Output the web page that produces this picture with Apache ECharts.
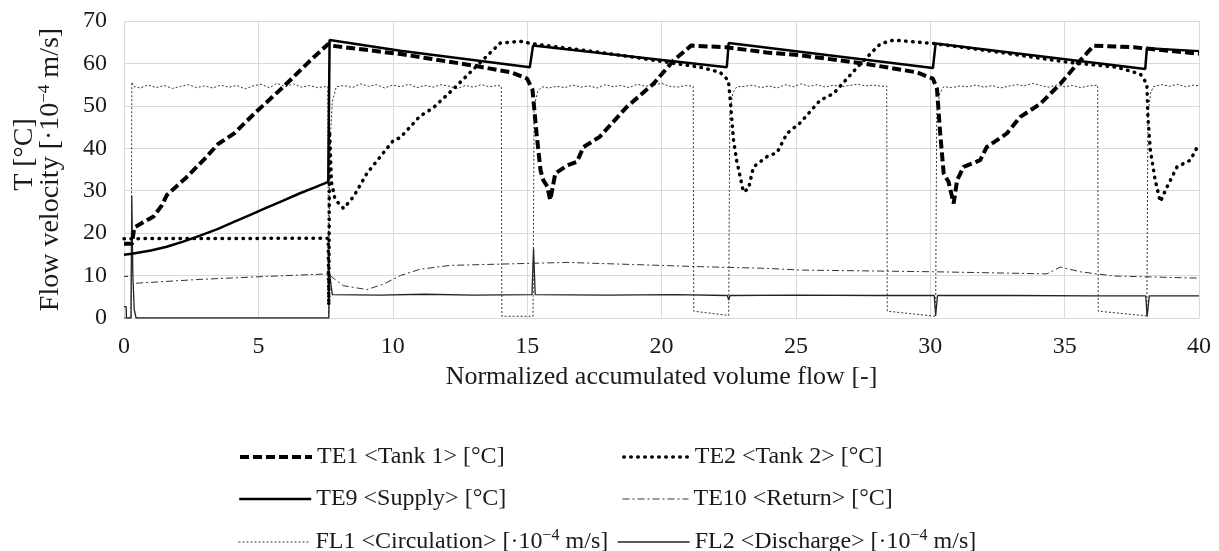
<!DOCTYPE html>
<html><head><meta charset="utf-8">
<script src="https://cdn.jsdelivr.net/npm/echarts@6/dist/echarts.min.js"></script>
<style>html,body{margin:0;padding:0;background:#fff}#c{width:1219px;height:551px}</style>
</head><body><div id="c"></div>
<script>
// ---- data ----
const seriesNames = ['TE1 <Tank 1> [°C]', 'TE2 <Tank 2> [°C]', 'TE9 <Supply> [°C]', 'TE10 <Return> [°C]',
  'FL1 <Circulation> [·10⁻⁴ m/s]', 'FL2 <Discharge> [·10⁻⁴ m/s]'];

const te1 = [[0,17.5],[0.3,17.5],[0.38,21.3],[0.7,22.5],[1.1,23.9],[1.4,26.5],[1.6,29.0],[2.3,33.0],[3.0,37.5],
  [3.5,41.0],[4.1,43.5],[4.9,48.5],[5.9,54.3],[6.9,60.5],[7.6,64.6],[7.7,64.2],[9,63.2],[10.3,62.2],[12,60.5],
  [13,59.5],[14.4,57.9],[15.0,56.4],[15.2,53.8],[15.35,43.5],[15.5,34.8],[15.6,32.5],[15.75,31.0],[15.86,27.8],
  [16.05,34.1],[16.5,36.0],[16.85,36.8],[17.1,40.3],[17.7,42.7],[18.7,49.7],[19.7,55.2],[20.45,60.7],[21.1,64.2],
  [22.4,63.8],[23.9,62.6],[25.2,61.9],[27.6,59.9],[29.5,57.9],[30.1,56.4],[30.25,54.0],[30.37,43.5],[30.5,34.1],
  [30.68,32.1],[30.87,27.0],[31.0,32.5],[31.24,35.6],[31.86,37.2],[32.1,40.3],[32.85,43.5],[33.35,47.4],
  [34.1,50.5],[34.84,55.2],[35.58,60.7],[36.08,64.2],[37.57,63.8],[38.06,63.5],[40,62.3]];

const te2 = [[0,18.7],[7.6,18.8],[7.62,3],[7.65,44],[7.72,32],[7.85,28],[8.17,25.8],[8.54,28.6],[9.04,34.1],
  [10.03,41.9],[10.28,42.5],[11.0,47.5],[11.5,49.5],[12.26,54],[13.38,61],[14.0,64.8],[14.74,65.2],[15.24,64.6],
  [17.72,62.6],[20.2,60.3],[21.44,59.1],[22.18,57.9],[22.49,56.0],[22.56,51.3],[22.68,41.9],[22.8,37],
  [23.05,29.7],[23.24,30.5],[23.42,35.6],[23.92,38.0],[24.3,39.0],[24.67,43.5],[25.16,46.0],[25.9,51.3],
  [26.4,52.9],[27.4,59.9],[28.14,64.6],[28.63,65.5],[30.12,64.7],[32.6,62.6],[35.09,60.3],[36.95,59.1],
  [37.82,57.5],[38.06,55.2],[38.1,47.4],[38.19,39.5],[38.37,32.5],[38.56,27.4],[38.81,30.9],[39.18,35.6],
  [39.68,37.2],[40,41.1]];

const te9 = [[0,14.9],[0.35,15.2],[1.0,15.9],[1.59,16.8],[2.2,18.0],[2.83,19.4],[3.5,21.0],[4.07,22.6],
  [4.7,24.3],[5.31,26.0],[5.9,27.6],[6.55,29.4],[7.1,30.8],[7.6,32.1],[7.65,65.5],[10.28,63.0],[15.1,59.1],
  [15.22,64.2],[22.43,59.1],[22.5,64.8],[30.1,58.9],[30.2,64.7],[38.0,58.7],[38.06,63.6],[40,62.9]];

const te10 = [[0,9.8],[0.15,9.8],[0.3,null],[0.45,8.2],[2.83,9.1],[5.31,9.8],[7.61,10.4],[7.7,9.8],[8.17,7.6],
  [9.04,6.7],[9.66,8.0],[10.28,10.0],[11.02,11.5],[12.14,12.4],[14.0,12.7],[16.48,13.1],[18.96,12.6],
  [21.44,12.1],[23.92,11.7],[25.16,11.3],[30.12,10.9],[34.34,10.4],[34.84,12.0],[35.58,10.9],[36.82,9.9],[40,9.4]];

const fl1 = [[0,0],[0.27,0],[0.29,55.6],[0.35,54.6],[0.6,54.2],[0.9,54.9],[1.2,54.3],[1.5,54.8],[1.8,54.1],
  [2.1,54.6],[2.4,55.0],[2.7,54.3],[3.0,54.7],[3.3,54.2],[3.6,54.9],[3.9,54.4],[4.2,54.8],[4.5,54.0],[4.8,54.7],
  [5.1,55.1],[5.4,54.3],[5.7,55.3],[6.0,54.5],[6.3,55.2],[6.6,54.4],[6.9,54.8],[7.2,54.3],[7.58,54.6],
  [7.62,0.5],[7.66,40],[7.75,51],[7.9,54.5],[8.2,54.8],[8.5,54.3],[8.8,55.2],[9.1,54.6],[9.4,55.0],[9.7,54.2],
  [10.0,54.9],[10.3,54.5],[10.6,55.1],[10.9,54.3],[11.2,54.8],[11.5,54.4],[11.8,55.0],[12.1,54.6],[12.4,54.1],
  [12.7,54.8],[13.0,54.4],[13.3,55.0],[13.6,54.5],[13.9,54.8],[14.04,54.6],[14.06,0.4],[15.22,0.4],[15.26,50],
  [15.4,53.5],[15.55,54.5],[15.8,54.2],[16.1,54.6],[16.4,54.3],[16.7,54.9],[17.0,54.4],[17.3,54.7],[17.6,54.2],
  [17.9,55.0],[18.2,54.5],[18.5,54.8],[18.8,54.3],[19.1,55.1],[19.4,54.6],[19.7,54.9],[20.0,55.3],[20.3,54.6],
  [20.6,54.4],[20.9,54.8],[21.18,54.6],[21.2,1.6],[22.5,0.6],[22.54,48],[22.65,53],[22.8,54.5],[23.1,54.6],
  [23.4,54.9],[23.7,54.3],[24.0,54.7],[24.3,54.2],[24.6,55.0],[24.9,54.5],[25.2,55.2],[25.5,54.6],[25.8,55.0],
  [26.1,54.4],[26.4,54.9],[26.7,54.5],[27.0,54.8],[27.3,55.1],[27.6,54.7],[27.9,54.9],[28.2,54.6],[28.38,54.7],
  [28.4,1.6],[30.2,0.4],[30.24,48],[30.35,53],[30.5,54.5],[30.8,54.3],[31.1,54.7],[31.4,54.5],[31.7,54.9],
  [32.0,54.4],[32.3,54.8],[32.6,54.2],[32.9,54.6],[33.2,55.0],[33.5,54.7],[33.8,55.3],[34.1,54.8],[34.4,54.4],
  [34.7,54.9],[35.0,54.5],[35.3,54.8],[35.6,54.3],[35.9,54.7],[36.23,54.9],[36.25,1.6],[38.06,0.5],[38.1,48],
  [38.2,53],[38.3,54.5],[38.6,55.0],[38.9,54.6],[39.2,55.1],[39.5,54.5],[39.8,54.9],[40,54.7]];

const fl2 = [[0,2.7],[0.08,2.7],[0.09,0],[0.26,0],[0.29,28.8],[0.33,10],[0.38,2],[0.45,0],[7.62,0],[7.64,10.8],
  [7.7,8],[7.75,5.5],[9.5,5.4],[11.2,5.6],[13.0,5.4],[15.18,5.5],[15.24,16.4],[15.3,5.5],[18,5.4],[20.5,5.5],
  [22.45,5.3],[22.5,4.2],[22.55,5.3],[25,5.4],[28,5.3],[30.15,5.3],[30.2,0.5],[30.27,5.3],[33,5.3],[36,5.2],
  [38.02,5.2],[38.07,0.3],[38.15,5.2],[40,5.2]];

const xTicks = {min: 0, max: 40, interval: 5};
const yTicks = {min: 0, max: 70, interval: 10};

// ---- chart ----
const FONT = '"Liberation Serif","Times New Roman",serif';
const TXT = '#1a1a1a';
const styles = [
  {color:'#000', width:4, type:[9,4], cap:'butt'},
  {color:'#000', width:3.5, type:[0.5,6.5], cap:'round'},
  {color:'#000', width:2.5, type:'solid', cap:'butt'},
  {color:'#333', width:1, type:[7,3,2,3], cap:'butt'},
  {color:'#333', width:1, type:[2,2], cap:'butt'},
  {color:'#222', width:1.3, type:'solid', cap:'butt'}
];
const datas = [te1, te2, te9, te10, fl1, fl2];
const order = [5,4,3,2,1,0];

const legendPos = [[233,440,72],[617,440,66],[233,482,72],[617,482,66],[233,523,72],[612,523,72]];
const legends = seriesNames.map((n,i)=>({
  left: legendPos[i][0], top: legendPos[i][1], itemWidth: legendPos[i][2], itemHeight: 14,
  selectedMode: false, data: [{name:n}],
  itemStyle: {opacity: 0, borderWidth: 0},
  lineStyle: {width: styles[i].width, type: styles[i].type, cap: styles[i].cap, color: styles[i].color},
  formatter: s => s.replace('⁻⁴', '{sup|−4}'),
  textStyle: {fontFamily: FONT, fontSize: 24, color: TXT,
    rich: {sup: {fontFamily: FONT, fontSize: 16, color: TXT, padding: [0,0,12,0]}}}
}));

const series = order.map(i=>({
  name: seriesNames[i], type: 'line', data: datas[i], symbol: 'none', showSymbol: false,
  connectNulls: false, animation: false, z: 10 - i,
  itemStyle: {color: styles[i].color},
  lineStyle: styles[i], emphasis: {disabled: true}
}));

const chart = echarts.init(document.getElementById('c'), null, {renderer: 'canvas'});
chart.setOption({
  backgroundColor: '#fff',
  animation: false,
  grid: {left: 124, right: 20, top: 21, bottom: 233},
  legend: legends,
  xAxis: {
    type: 'value', min: xTicks.min, max: xTicks.max, interval: xTicks.interval,
    name: 'Normalized accumulated volume flow [-]', nameLocation: 'middle', nameGap: 45,
    nameTextStyle: {fontFamily: FONT, fontSize: 26, color: TXT},
    axisLine: {show: true, lineStyle: {color: '#d9d9d9', width: 1}},
    axisTick: {show: false},
    axisLabel: {fontFamily: FONT, fontSize: 24, color: TXT, margin: 17},
    splitLine: {show: true, lineStyle: {color: '#d9d9d9', width: 1}}
  },
  yAxis: {
    type: 'value', min: yTicks.min, max: yTicks.max, interval: yTicks.interval,
    name: '{a|T [°C]}\nFlow velocity [·10{sup|−4} m/s]', nameLocation: 'middle', nameGap: 60, nameRotate: 90,
    nameTextStyle: {fontFamily: FONT, fontSize: 28, lineHeight: 26, color: TXT, align: 'center',
      rich: {
        a: {fontFamily: FONT, fontSize: 28, color: TXT, padding: [0,0,0,30]},
        sup: {fontFamily: FONT, fontSize: 17, color: TXT, padding: [0,0,12,0]}}},
    axisLine: {show: false},
    axisTick: {show: false},
    axisLabel: {fontFamily: FONT, fontSize: 24, color: TXT, margin: 17},
    splitLine: {show: true, lineStyle: {color: '#d9d9d9', width: 1}}
  },
  series: series
});
</script>
</body></html>
